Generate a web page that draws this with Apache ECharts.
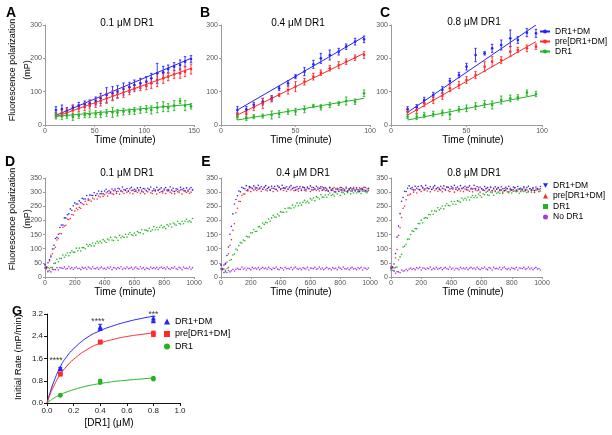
<!DOCTYPE html>
<html><head><meta charset="utf-8">
<script src="https://cdn.jsdelivr.net/npm/echarts@6/dist/echarts.min.js"></script>
<style>html,body{margin:0;padding:0;background:#fff}#c{width:612px;height:435px}</style>
</head><body><div id="c"></div><script>
const FONT = 'Arial, "Liberation Sans", sans-serif';
const BLUE = '#2323ff', RED = '#ff2a2a', GREEN = '#22b522', PURPLE = '#a83ae0';

// ---- Panels A-C (initial rates, mean +/- error) ----
const timesA = [11,17,22,28,34,40,45,51,56,62,68,73,79,85,90,96,102,107,113,119,124,130,136,141,147];
const aDM     = [45,48,42,52,58,62,65,72,80,90,95,100,108,113,120,125,130,140,155,158,168,175,180,190,198];
const aDMErr  = [10,12,10,8,10,10,10,12,15,22,20,18,18,15,15,15,15,15,30,18,12,12,15,15,10];
const aPre    = [30,35,38,44,50,55,60,65,72,80,88,92,98,103,110,115,118,125,135,140,145,152,155,160,168];
const aPreErr = [8,10,10,15,10,12,12,12,15,15,15,12,15,12,10,12,12,15,20,15,12,12,15,15,15];
const aDR1    = [28,26,28,24,28,30,32,33,32,36,38,37,40,40,42,45,48,45,52,55,52,58,72,58,56];
const aDR1Err = [10,10,8,10,8,8,10,10,10,10,15,10,10,8,10,10,10,12,15,15,12,15,8,15,8];
const fitTimesA = [11,147];
const aDMFit = [29,200], aPreFit = [25,170], aDR1Fit = [26,62];

const timesBC = [11,17,22,28,34,39,45,50,56,62,67,73,79,84,90,96];
const bDM     = [45,47,60,70,80,110,125,145,160,182,200,210,220,235,250,257];
const bDMErr  = [10,8,8,10,8,6,8,6,12,12,15,15,10,8,10,10];
const bPre    = [30,33,53,65,77,90,105,115,130,145,157,170,180,190,202,210];
const bPreErr = [8,12,10,15,8,5,12,15,10,10,8,8,10,8,8,10];
const bDR1    = [25,20,25,27,30,33,40,40,47,57,53,60,65,72,70,95];
const bDR1Err = [8,6,6,6,12,10,8,10,10,5,8,8,6,12,8,10];
const fitTimesBC = [11,96];
const bDMFit = [45,265], bPreFit = [30,215], bDR1Fit = [15,80];

const cDM     = [47,53,75,90,105,132,150,175,210,215,230,240,260,255,277,275];
const cDMErr  = [8,8,8,8,10,8,8,10,20,5,12,15,25,10,12,12];
const cPre    = [40,45,65,75,87,110,120,135,150,175,190,195,220,225,230,235];
const cPreErr = [8,10,10,10,10,10,10,10,10,15,15,10,15,8,10,8];
const cDR1    = [25,25,30,33,37,32,47,50,57,63,60,75,80,83,97,93];
const cDR1Err = [6,8,8,8,8,15,8,10,10,10,12,12,10,8,8,8];
const cDMFit = [38,300], cPreFit = [30,250], cDR1Fit = [15,90];

// ---- Panels D-F (kinetics, 0-1000 min) ----
const dfTimes = [0,10,20,30,40,50,60,70,80,90,100,110,120,130,140,150,160,170,180,190,200,210,220,230,240,250,260,270,280,290,300,310,320,330,340,350,360,370,380,390,400,410,420,430,440,450,460,470,480,490,500,510,520,530,540,550,560,570,580,590,600,610,620,630,640,650,660,670,680,690,700,710,720,730,740,750,760,770,780,790,800,810,820,830,840,850,860,870,880,890,900,910,920,930,940,950,960,970,980,990];

const dDM = [43,33,50,61,71,99,112,136,140,151,175,184,184,209,209,220,223,241,236,252,262,258,258,269,263,278,276,276,288,276,290,289,288,298,288,294,304,294,302,294,304,310,301,305,298,311,305,311,301,314,311,305,318,309,306,313,304,312,317,307,310,303,315,308,316,302,313,311,305,314,309,318,304,312,307,317,306,310,315,303,311,316,308,305,318,307,314,302,312,310,304,317,309,313,306,315,303,311,316,308];
const dPre = [31,35,34,57,77,82,100,105,131,136,154,153,176,180,183,204,203,207,221,219,233,243,238,246,243,259,256,268,257,271,272,268,279,276,288,276,286,283,294,285,291,297,286,295,301,294,292,306,295,303,293,303,301,295,308,300,304,297,306,294,302,307,299,304,296,307,300,294,305,301,309,298,295,306,303,293,308,299,302,297,307,295,304,309,300,296,303,294,306,301,298,308,293,305,302,299,307,296,300,309];
const dDR1 = [33,36,19,30,34,33,48,49,63,54,66,65,78,70,77,85,75,86,93,88,87,102,93,102,92,104,104,100,115,109,115,110,120,110,119,126,120,126,120,132,127,122,134,131,140,131,129,141,139,130,147,139,144,140,151,141,151,157,150,147,155,148,161,157,156,167,153,166,165,163,172,162,167,178,167,175,167,176,183,174,178,171,185,180,187,177,191,187,183,197,189,187,196,188,197,204,195,199,194,207];
const dNo = [43,29,21,23,18,27,26,26,33,25,33,32,30,35,28,30,36,29,33,27,32,35,29,31,26,34,30,33,27,35,32,28,36,30,29,33,27,32,35,29,31,27,34,30,35,26,33,32,28,33,30,36,27,32,29,35,29,31,34,27,32,35,30,28,36,29,33,26,32,31,27,35,30,33,29,34,27,32,35,30,33,28,35,30,27,33,31,36,29,27,34,32,26,35,30,32,29,35,27,33];

const eDM = [42,26,42,48,76,106,151,179,223,258,274,287,304,301,317,314,312,323,308,320,317,314,322,311,315,324,312,319,310,318,323,313,316,308,321,314,320,309,322,317,311,324,315,312,319,310,318,323,313,316,307,319,312,320,306,317,315,309,318,313,322,308,316,311,321,310,314,319,307,315,315,307,304,317,306,313,301,311,309,303,316,308,312,305,314,302,310,315,307,312,304,315,308,302,313,309,317,306,303,314];
const ePre = [43,29,28,45,52,82,112,132,165,188,227,243,268,267,288,293,293,306,304,315,302,312,307,317,306,310,315,303,311,316,308,305,318,307,314,302,312,310,304,317,309,313,306,315,303,311,316,308,313,305,316,309,303,314,310,318,307,304,315,312,302,317,308,311,306,316,304,313,318,309,305,312,303,315,310,307,317,302,314,311,308,316,305,309,318,306,313,304,312,317,307,310,302,315,308,314,303,316,311,305];
const eDR1 = [27,29,16,24,30,34,59,62,78,81,99,95,111,122,120,131,128,144,142,141,156,156,168,161,162,177,178,172,191,186,193,192,205,197,209,218,212,211,222,216,231,229,229,242,230,244,244,243,254,245,251,262,252,261,254,264,271,263,268,262,277,272,279,270,284,281,276,291,283,282,290,282,291,297,288,292,286,299,293,302,288,300,298,293,302,298,307,294,302,297,308,297,301,307,295,303,308,301,298,311];
const eNo = [31,30,16,19,16,23,18,22,27,21,27,31,27,27,35,28,32,25,31,30,26,34,29,32,28,33,26,31,34,29,32,27,34,29,26,32,30,35,28,26,33,31,25,34,29,31,28,34,26,32,35,29,27,31,26,33,30,28,34,25,32,31,29,34,27,29,35,28,32,26,31,34,28,30,25,33,29,32,26,34,31,27,35,29,28,32,26,31,34,28,30,26,33,29,34,25,32,31,27,32];

const fDM = [30,34,46,83,141,180,224,268,281,303,302,314,322,313,316,308,321,314,320,309,322,317,311,324,315,312,319,310,318,323,313,316,309,321,314,322,308,319,317,311,320,315,324,310,318,313,323,312,316,321,309,317,322,314,311,324,313,320,308,318,313,307,320,312,316,309,318,306,314,319,311,316,308,319,312,306,317,313,321,310,307,318,315,305,320,311,314,309,319,307,316,321,312,308,315,306,318,313,310,320];
const fPre = [34,36,32,67,97,147,174,210,243,251,273,289,290,293,309,300,308,297,310,308,302,315,307,311,304,313,301,309,314,306,311,303,314,307,301,312,308,316,305,302,313,310,300,315,306,309,304,314,302,311,316,307,303,310,301,313,308,305,315,300,312,309,306,314,303,307,316,304,311,302,310,315,305,308,300,313,306,312,301,314,309,303,316,307,304,311,302,310,315,305,308,301,313,306,314,300,311,309,303,312];
const fDR1 = [24,33,23,34,35,61,71,80,106,109,116,133,134,150,163,161,171,171,189,188,201,192,208,210,208,221,220,233,222,234,232,245,237,243,251,241,252,259,253,252,267,258,267,257,269,268,264,279,272,278,272,283,272,282,288,281,287,281,293,287,282,294,291,300,290,288,300,298,289,305,296,300,296,306,295,304,310,301,298,305,297,309,304,301,311,296,308,305,302,310,299,303,312,300,307,298,306,311,301,304];
const fNo = [38,24,20,13,19,18,15,25,21,22,27,22,28,32,27,30,26,33,29,34,25,32,31,27,32,29,35,26,31,28,34,28,30,33,26,31,34,29,27,35,28,32,25,31,30,26,34,29,32,28,33,26,31,34,29,32,27,34,29,26,32,30,35,28,26,33,31,25,34,29,31,28,34,26,32,35,29,27,31,26,33,30,28,34,25,32,31,29,34,27,29,35,28,32,26,31,34,28,30,25];

// ---- Panel G (initial rate vs [DR1]) ----
const gConc = [0.1,0.1,0.4,0.4,0.8,0.8];
const gDM   = [1.26,1.23,2.74,2.68,3.06,2.96];
const gPre  = [1.05,1.03,2.20,2.18,2.52,2.45];
const gDR1  = [0.29,0.27,0.80,0.73,0.90,0.85];
const gMeanConc = [0.1,0.4,0.8];
const gDMMean = [1.25,2.72,3.02], gDMSd = [0.03,0.11,0.1];
const gPreMean = [1.04,2.19,2.49], gPreSd = [0.02,0.04,0.05];
const gDR1Mean = [0.28,0.77,0.88], gDR1Sd = [0.02,0.05,0.04];
const gFitConc = [0,0.025,0.05,0.1,0.15,0.2,0.3,0.4,0.5,0.6,0.7,0.8];
const gDMFit  = [0,0.40,0.75,1.30,1.68,1.95,2.35,2.60,2.78,2.92,3.03,3.12];
const gPreFit = [0,0.33,0.60,1.03,1.33,1.57,1.92,2.15,2.29,2.39,2.46,2.52];
const gDR1Fit = [0,0.09,0.17,0.30,0.40,0.48,0.61,0.70,0.77,0.82,0.86,0.90];
const starX = [0.068,0.383,0.80];
const starY = [1.53,2.93,3.17];
const starText = ['****','****','***'];

const NAMES = ['DR1+DM','pre[DR1+DM]','DR1','No DR1'];
const panelTitles = ['0.1 μM DR1','0.4 μM DR1','0.8 μM DR1'];

function pairs(xs, ys) { return xs.map((x, i) => [x, ys[i]]); }
function errData(xs, m, e) { return xs.map((x, i) => [x, m[i] - e[i], m[i] + e[i]]); }

function errSeries(name, gi, xs, m, e, color, cap, lw) {
  return {
    name: name, type: 'custom', xAxisIndex: gi, yAxisIndex: gi, silent: true, z: 3,
    data: errData(xs, m, e),
    renderItem: function (params, api) {
      const p1 = api.coord([api.value(0), api.value(1)]);
      const p2 = api.coord([api.value(0), api.value(2)]);
      const st = { stroke: color, lineWidth: lw };
      return { type: 'group', children: [
        { type: 'line', shape: { x1: p1[0], y1: p1[1], x2: p2[0], y2: p2[1] }, style: st },
        { type: 'line', shape: { x1: p1[0] - cap, y1: p1[1], x2: p1[0] + cap, y2: p1[1] }, style: st },
        { type: 'line', shape: { x1: p2[0] - cap, y1: p2[1], x2: p2[0] + cap, y2: p2[1] }, style: st }
      ] };
    }
  };
}
function fitSeries(name, gi, xs, ys, color, smooth) {
  return { name: name, type: 'line', xAxisIndex: gi, yAxisIndex: gi, data: pairs(xs, ys),
    symbol: 'circle', showSymbol: false, smooth: !!smooth, silent: true, z: 2,
    itemStyle: { color: color }, lineStyle: { color: color, width: 1 } };
}
function ptSeries(name, gi, xs, ys, color, symbol, size, z) {
  return { name: name, type: 'scatter', xAxisIndex: gi, yAxisIndex: gi, data: pairs(xs, ys),
    symbol: symbol, symbolSize: size, silent: true, z: z || 4,
    itemStyle: { color: color, opacity: 1 } };
}

const series = [];
series.push(fitSeries(NAMES[0], 0, fitTimesA, aDMFit, BLUE));
series.push(fitSeries(NAMES[1], 0, fitTimesA, aPreFit, RED));
series.push(fitSeries(NAMES[2], 0, fitTimesA, aDR1Fit, GREEN));
const abc = [
  { gi: 0, t: timesA, sets: [[aDM, aDMErr], [aPre, aPreErr], [aDR1, aDR1Err]] },
  { gi: 1, t: timesBC, fit: [bDMFit, bPreFit, bDR1Fit], sets: [[bDM, bDMErr], [bPre, bPreErr], [bDR1, bDR1Err]] },
  { gi: 2, t: timesBC, fit: [cDMFit, cPreFit, cDR1Fit], sets: [[cDM, cDMErr], [cPre, cPreErr], [cDR1, cDR1Err]] }
];
const colsABC = [BLUE, RED, GREEN];
abc.forEach(p => {
  p.sets.forEach((s, k) => {
    if (p.fit) series.push(fitSeries(NAMES[k], p.gi, fitTimesBC, p.fit[k], colsABC[k]));
    series.push(errSeries(NAMES[k], p.gi, p.t, s[0], s[1], colsABC[k], 1.2, 0.9));
    series.push(ptSeries(NAMES[k], p.gi, p.t, s[0], colsABC[k], 'circle', 2.6));
  });
});
const dfSets = [
  { gi: 3, v: [dDM, dPre, dDR1, dNo] },
  { gi: 4, v: [eDM, ePre, eDR1, eNo] },
  { gi: 5, v: [fDM, fPre, fDR1, fNo] }
];
const colsDF = [BLUE, RED, GREEN, PURPLE];
dfSets.forEach(p => {
  [3, 2, 1, 0].forEach(k => {
    series.push(ptSeries(NAMES[k], p.gi, dfTimes, p.v[k], colsDF[k], 'circle', 1.6, 4 + (3 - k) * 0.1));
  });
});
series.push(fitSeries(NAMES[0], 6, gFitConc, gDMFit, BLUE, true));
series.push(fitSeries(NAMES[1], 6, gFitConc, gPreFit, RED, true));
series.push(fitSeries(NAMES[2], 6, gFitConc, gDR1Fit, GREEN, true));
series.push(errSeries(NAMES[0], 6, gMeanConc, gDMMean, gDMSd, BLUE, 2, 1));
series.push(errSeries(NAMES[1], 6, gMeanConc, gPreMean, gPreSd, RED, 2, 1));
series.push(errSeries(NAMES[2], 6, gMeanConc, gDR1Mean, gDR1Sd, GREEN, 2, 1));
series.push(ptSeries(NAMES[0], 6, gConc, gDM, BLUE, 'triangle', 5));
series.push(ptSeries(NAMES[1], 6, gConc, gPre, RED, 'rect', 4.5));
series.push(ptSeries(NAMES[2], 6, gConc, gDR1, GREEN, 'circle', 4.5));
series.push({ type: 'scatter', xAxisIndex: 6, yAxisIndex: 6, symbolSize: 0, silent: true, z: 6,
  data: starX.map((x, i) => [x, starY[i], starText[i]]),
  label: { show: true, position: 'inside', formatter: p => p.data[2], fontSize: 8.5, color: '#000', fontFamily: FONT } });

const grids = [
  { left: 45, top: 25, width: 149, height: 100 },
  { left: 221, top: 25, width: 149, height: 100 },
  { left: 391, top: 25, width: 151, height: 100 },
  { left: 45, top: 178, width: 149, height: 99 },
  { left: 221, top: 178, width: 149, height: 99 },
  { left: 391, top: 178, width: 151, height: 99 },
  { left: 47, top: 314, width: 133, height: 89 }
];
const xRanges = [[0,150,50],[0,100,50],[0,100,50],[0,1000,200],[0,1000,200],[0,1000,200],[0,1,0.2]];
const yRanges = [[0,300,100],[0,300,100],[0,300,100],[0,350,50],[0,350,50],[0,350,50],[0,3.2,0.8]];
function axisCommon(gi, r, isG) {
  const lc = isG ? '#111' : '#9a9a9a';
  return {
    gridIndex: gi, type: 'value', min: r[0], max: r[1], interval: r[2],
    axisLine: { show: true, onZero: false, lineStyle: { color: lc, width: 1 } },
    axisTick: { show: true, length: isG ? 3 : 2, lineStyle: { color: lc } },
    splitLine: { show: false },
    axisLabel: { fontSize: isG ? 8 : 7, color: isG ? '#222' : '#555', margin: isG ? 4 : 3, fontFamily: FONT,
      formatter: isG ? (v => v.toFixed(1)) : (v => String(v)), showMinLabel: true, showMaxLabel: true }
  };
}
const xAxis = xRanges.map((r, i) => axisCommon(i, r, i === 6));
const yAxis = yRanges.map((r, i) => axisCommon(i, r, i === 6));

const txt = (s, x, y, size, opts) => Object.assign({ type: 'text', x: x, y: y, silent: true,
  style: Object.assign({ text: s, fontSize: size, fontFamily: FONT, fill: '#000', align: 'center', verticalAlign: 'middle' }, (opts && opts.style) || {}) },
  opts && opts.rotation ? { rotation: opts.rotation } : {});
const bold = { style: { fontWeight: 'bold' } };
const graphic = [
  txt('A', 11, 13, 14, bold), txt('B', 205, 13, 14, bold), txt('C', 385, 13, 14, bold),
  txt('D', 10, 162, 14, bold), txt('E', 206, 162, 14, bold), txt('F', 384, 162, 14, bold),
  txt('G', 17, 311, 13, bold),
  txt(panelTitles[0], 127, 23, 10), txt(panelTitles[1], 298, 23, 10), txt(panelTitles[2], 474, 22, 10),
  txt(panelTitles[0], 127, 173, 10), txt(panelTitles[1], 303, 173, 10), txt(panelTitles[2], 474, 173, 10),
  txt('Time (minute)', 125, 140, 10), txt('Time (minute)', 301, 140, 10), txt('Time (minute)', 473, 140, 10),
  txt('Time (minute)', 125, 292, 10), txt('Time (minute)', 301, 292, 10), txt('Time (minute)', 473, 292, 10),
  txt('Fluorescence polarization\n(mP)', 20.5, 70, 9, { rotation: Math.PI / 2, style: { lineHeight: 15 } }),
  txt('Fluorescence polarization\n(mP)', 20.5, 219, 9, { rotation: Math.PI / 2, style: { lineHeight: 15 } }),
  txt('Initial Rate (mP/min)', 18, 357, 9.5, { rotation: Math.PI / 2 }),
  txt('[DR1] (μM)', 109, 423, 10)
];

const legTxt = { fontSize: 8.5, color: '#000', fontFamily: FONT };
const legend = [
  { left: 539, top: 27, orient: 'vertical', itemWidth: 10, itemHeight: 5, itemGap: 1, padding: 0,
    selectedMode: false, textStyle: legTxt, data: [NAMES[0], NAMES[1], NAMES[2]] },
  { left: 543, top: 181, orient: 'vertical', itemWidth: 5, itemHeight: 5, itemGap: 1.5, padding: 0,
    selectedMode: false, textStyle: legTxt,
    data: [{ name: NAMES[0], icon: 'path://M0,0L10,0L5,9Z' }, { name: NAMES[1], icon: 'triangle' },
           { name: NAMES[2], icon: 'rect' }, { name: NAMES[3], icon: 'circle' }] },
  { left: 164, top: 317, orient: 'vertical', itemWidth: 6, itemHeight: 6, itemGap: 3.5, padding: 0,
    selectedMode: false, textStyle: { fontSize: 9, color: '#000', fontFamily: FONT },
    data: [{ name: NAMES[0], icon: 'triangle' }, { name: NAMES[1], icon: 'rect' }, { name: NAMES[2], icon: 'circle' }] }
];

const chart = echarts.init(document.getElementById('c'), null, { renderer: 'canvas', width: 612, height: 435 });
chart.setOption({
  backgroundColor: '#fff', animation: false,
  textStyle: { fontFamily: FONT },
  grid: grids, xAxis: xAxis, yAxis: yAxis, legend: legend, series: series, graphic: graphic
});
</script></body></html>
